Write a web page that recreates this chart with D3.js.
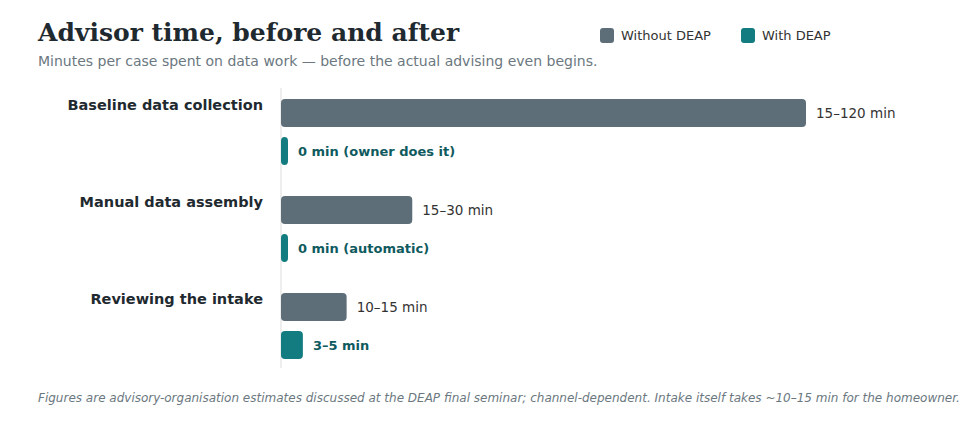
<!DOCTYPE html>
<html><head><meta charset="utf-8">
<script src="https://cdn.jsdelivr.net/npm/d3@7"></script>
<style>body{margin:0;background:#fff}svg{display:block}</style>
</head><body><div id="chart"></div>
<script>
// Data
const categories = ["Baseline data collection", "Manual data assembly", "Reviewing the intake"];
const withoutValues = [120, 30, 15];
const withValues = [0, 0, 5];
const withoutLabels = ["15–120 min", "15–30 min", "10–15 min"];
const withLabels = ["0 min (owner does it)", "0 min (automatic)", "3–5 min"];
const seriesNames = ["Without DEAP", "With DEAP"];

const W = 975, H = 423;
const grey = "#5e6e78", teal = "#137c80", tealText = "#0f5a5e";
const svg = d3.select("#chart").append("svg").attr("width", W).attr("height", H);

svg.append("text").attr("x", 38).attr("y", 41)
  .style("font", "bold 25px 'DejaVu Serif'").attr("fill", "#1f2a30")
  .text("Advisor time, before and after");
svg.append("text").attr("x", 38).attr("y", 66)
  .style("font", "14px 'DejaVu Sans'").attr("fill", "#6b7880")
  .text("Minutes per case spent on data work — before the actual advising even begins.");

// Legend
const legX = [600, 741];
seriesNames.forEach((n, i) => {
  svg.append("rect").attr("x", legX[i]).attr("y", 28).attr("width", 14).attr("height", 15)
    .attr("rx", 3).attr("fill", i ? teal : grey);
  svg.append("text").attr("x", legX[i] + 21).attr("y", 40)
    .style("font", "13px 'DejaVu Sans'").attr("fill", "#333").text(n);
});

const x = d3.scaleLinear().domain([0, 120]).range([281, 806]);
const y = d3.scaleBand().domain(categories).range([90, 381]);
const barH = 28, gap = 10, minW = 7;

svg.append("line").attr("x1", x(0)).attr("x2", x(0)).attr("y1", 88).attr("y2", 368)
  .attr("stroke", "#ddd");

const g = svg.selectAll(".grp").data(categories).join("g")
  .attr("transform", d => `translate(0,${y(d) + 9})`);

g.append("text").attr("x", 263).attr("y", 11).attr("text-anchor", "end")
  .style("font", "bold 14.5px 'DejaVu Sans'").attr("fill", "#1f2a30").text(d => d);

g.append("rect").attr("x", x(0)).attr("y", 0).attr("height", barH).attr("rx", 4)
  .attr("width", (d, i) => Math.max(minW, x(withoutValues[i]) - x(0))).attr("fill", grey);
g.append("text").attr("x", (d, i) => x(0) + Math.max(minW, x(withoutValues[i]) - x(0)) + 10)
  .attr("y", barH / 2 + 5).style("font", "13.5px 'DejaVu Sans'").attr("fill", "#333")
  .text((d, i) => withoutLabels[i]);

g.append("rect").attr("x", x(0)).attr("y", barH + gap).attr("height", barH).attr("rx", 4)
  .attr("width", (d, i) => Math.max(minW, x(withValues[i]) - x(0))).attr("fill", teal);
g.append("text").attr("x", (d, i) => x(0) + Math.max(minW, x(withValues[i]) - x(0)) + 10)
  .attr("y", barH + gap + barH / 2 + 5).style("font", "bold 13px 'DejaVu Sans'").attr("fill", tealText)
  .text((d, i) => withLabels[i]);

svg.append("text").attr("x", 38).attr("y", 402)
  .style("font", "italic 12px 'DejaVu Sans'").attr("fill", "#6b7880")
  .text("Figures are advisory-organisation estimates discussed at the DEAP final seminar; channel-dependent. Intake itself takes ~10–15 min for the homeowner.");
</script></body></html>
